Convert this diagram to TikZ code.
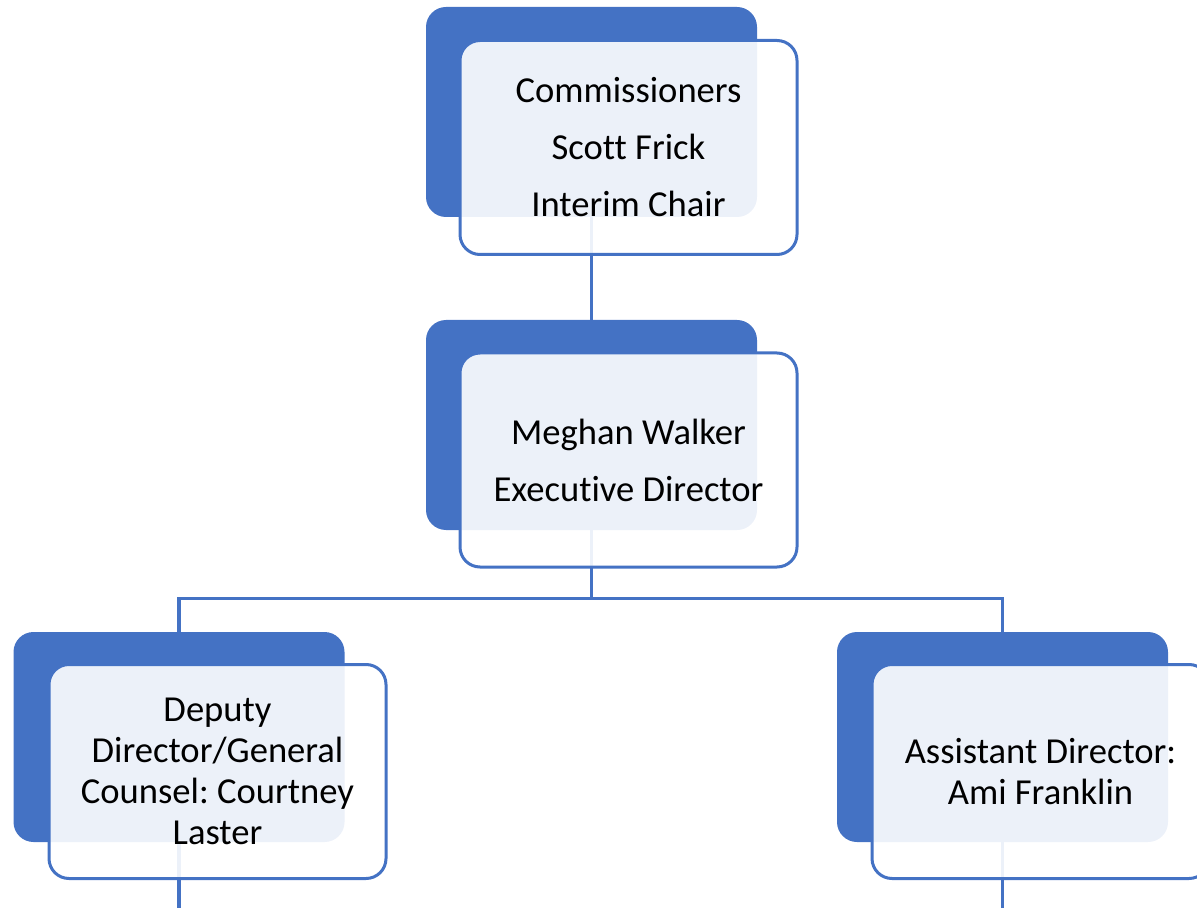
\documentclass[tikz,border=0pt]{standalone}
\usepackage{fontspec}
\setmainfont{Carlito}[Ligatures=CommonOff]
\frenchspacing
\definecolor{accent}{HTML}{4472C4}
\tikzset{
  backbox/.style={fill=accent, draw=none, rounded corners=10pt,
    minimum width=165.5pt, minimum height=105pt, inner sep=0pt},
  frontbox/.style={fill=white, fill opacity=0.9, text opacity=1,
    draw=accent, draw opacity=1, line width=1.5pt, rounded corners=10pt,
    minimum width=168.5pt, minimum height=107pt, inner sep=0pt,
    align=center, font=\fontsize{18.3}{20.5}\selectfont},
  conn/.style={draw=accent, line width=1.6pt}
}
\begin{document}
\begin{tikzpicture}[x=0.5pt, y=-0.5pt]
\useasboundingbox (0,0) rectangle (1197,908);
% back boxes
\node[backbox] (b1) at (591.5,112) {};
\node[backbox] (b2) at (591.5,425) {};
\node[backbox] (b3) at (179,737) {};
\node[backbox] (b4) at (1002.5,737) {};
% connectors
\coordinate (e3) at (179,908);
\coordinate (e4) at (1002.5,908);
\draw[conn] (b1.south) -- (b2.north);
\draw[conn] (b2.south) -- ++(0,68) -| (b3.north);
\draw[conn] (b2.south) -- ++(0,68) -| (b4.north);
\draw[conn] (b3.south) -- (e3);
\draw[conn] (b4.south) -- (e4);
% front boxes
\node[frontbox] (f1) at (628.5,147.5) {Commissioners\\[8pt]Scott Frick\\[8pt]Interim Chair};
\node[frontbox] (f2) at (628.5,460) {Meghan Walker\\[8pt]Executive Director};
\node[frontbox] (f3) at (217.5,771.5) {Deputy\\Director/General\\Counsel: Courtney\\Laster};
\node[frontbox] (f4) at (1040.5,771.5) {Assistant Director:\\Ami Franklin};
\end{tikzpicture}
\end{document}
